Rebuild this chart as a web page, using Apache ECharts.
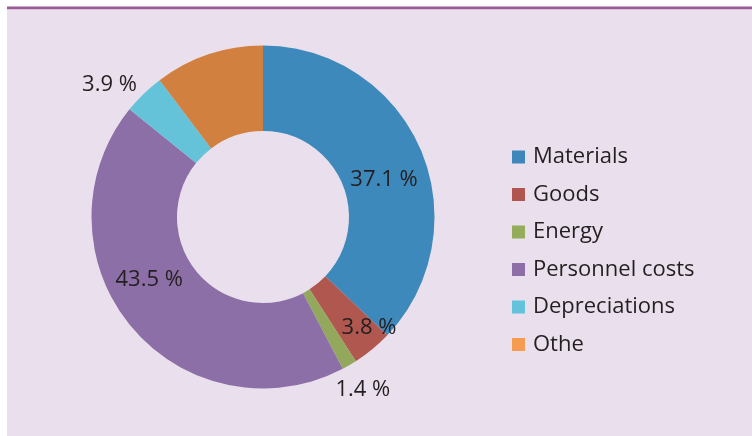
<!DOCTYPE html>
<html>
<head>
<meta charset="utf-8">
<script src="https://cdn.jsdelivr.net/npm/echarts@6/dist/echarts.min.js"></script>
<style>
  html, body { margin: 0; padding: 0; background: #fff; }
  #chart { width: 752px; height: 436px; }
</style>
</head>
<body>
<div id="chart"></div>
<script>
  // cost structure, in percent
  const categories = ['Materials', 'Goods', 'Energy', 'Personnel costs', 'Depreciations', 'Othe'];
  const shares = [37.1, 3.8, 1.4, 43.5, 3.9, 10.3];
  const sliceColors = ['#3d89bb', '#b0574f', '#93a85c', '#8d6fa7', '#64c3d9', '#d2803f'];
  const legendColors = ['#3d87bb', '#b0554f', '#94ad5a', '#8d6ea6', '#62c3da', '#f59c51'];
  // which slices carry a label and where
  const labelPlace = ['inside', 'inside', 'outside', 'inside', 'outside', 'none'];

  const chart = echarts.init(document.getElementById('chart'));

  const textColor = '#231f20';
  const font = '"Open Sans", "Noto Sans", sans-serif';
  // small nudges so labels sit where the original put them
  const nudge = [[0, 15], [22, 9], [-26, 12], [-12, -21], [8, 1], [0, 0]];

  const option = {
    backgroundColor: '#fff',
    animation: false,
    graphic: [
      { type: 'rect', z: -10, shape: { x: 7, y: 9, width: 745, height: 427 }, style: { fill: '#eae0ed' } },
      { type: 'rect', z: -9, shape: { x: 7, y: 6.5, width: 745, height: 2.5 }, style: { fill: '#9b5b97' } },
      { type: 'rect', z: -9, shape: { x: 7, y: 9, width: 745, height: 1 }, style: { fill: '#d9bfd9' } }
    ],
    legend: {
      orient: 'vertical',
      left: 507,
      top: 141,
      itemWidth: 13,
      itemHeight: 13,
      itemGap: 15.5,
      icon: 'rect',
      textStyle: { color: textColor, fontSize: 22, fontFamily: font, lineHeight: 22, padding: [0, 0, 0, 3] },
      data: categories.map((name, i) => ({ name: name, itemStyle: { color: legendColors[i] } }))
    },
    series: [{
      type: 'pie',
      center: [263, 217],
      radius: [86, 171.5],
      startAngle: 90,
      clockwise: true,
      avoidLabelOverlap: false,
      emphasis: { disabled: true },
      label: {
        color: textColor,
        fontSize: 22,
        fontFamily: font,
        formatter: p => p.value.toFixed(1) + ' %'
      },
      labelLine: { show: false, length: 14, length2: 0 },
      labelLayout: p => ({ dx: nudge[p.dataIndex][0], dy: nudge[p.dataIndex][1] }),
      data: categories.map((name, i) => ({
        name: name,
        value: shares[i],
        itemStyle: { color: sliceColors[i] },
        label: labelPlace[i] === 'none'
          ? { show: false }
          : { show: true, position: labelPlace[i] }
      }))
    }]
  };

  chart.setOption(option);
</script>
</body>
</html>
